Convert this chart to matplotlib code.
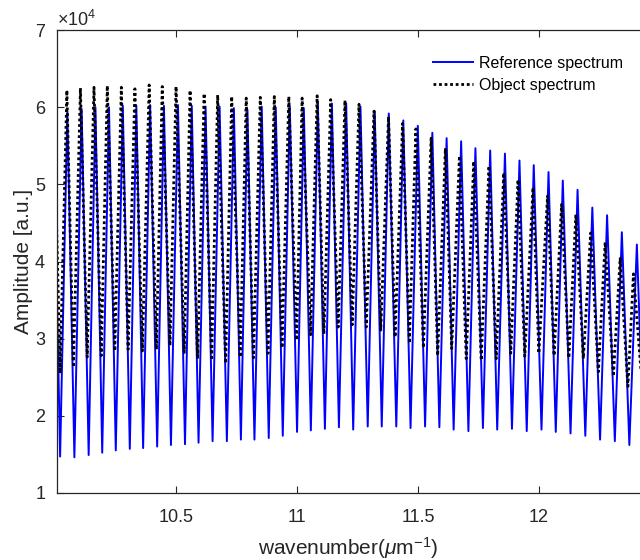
import matplotlib
matplotlib.use("Agg")
import matplotlib.pyplot as plt
import numpy as np

plt.rcParams['font.family'] = ['Liberation Sans', 'DejaVu Sans']
plt.rcParams['mathtext.fontset'] = 'custom'
plt.rcParams['mathtext.rm'] = 'Liberation Sans'
plt.rcParams['mathtext.it'] = 'Liberation Sans:italic'

SCALE = 1e4  # amplitudes below are in units of 1e4

# Reference spectrum (blue): fringe maxima and minima
ref_peak_x = [9.993, 10.051, 10.110, 10.167, 10.223, 10.280, 10.336, 10.393, 10.450, 10.508,
              10.565, 10.622, 10.680, 10.739, 10.795, 10.854, 10.912, 10.970, 11.028, 11.086,
              11.144, 11.203, 11.262, 11.321, 11.379, 11.439, 11.499, 11.559, 11.618, 11.678,
              11.737, 11.798, 11.859, 11.919, 11.978, 12.039, 12.098, 12.159, 12.220, 12.281,
              12.342, 12.404]
ref_peak_y = [5.96, 5.95, 5.98, 6.00, 6.00, 6.02, 6.02, 6.03, 6.02, 6.03,
              6.02, 6.01, 6.01, 5.99, 5.97, 6.01, 6.00, 6.02, 5.99, 6.06,
              6.05, 6.05, 6.01, 5.95, 5.92, 5.83, 5.76, 5.67, 5.60, 5.56,
              5.47, 5.44, 5.40, 5.31, 5.25, 5.16, 5.05, 4.93, 4.70, 4.60,
              4.38, 4.22]
ref_trough_x = [10.021, 10.080, 10.139, 10.195, 10.251, 10.309, 10.364, 10.422, 10.479, 10.537,
                10.593, 10.651, 10.710, 10.768, 10.824, 10.883, 10.941, 11.000, 11.057, 11.115,
                11.173, 11.232, 11.292, 11.350, 11.410, 11.469, 11.529, 11.588, 11.647, 11.708,
                11.768, 11.827, 11.888, 11.949, 12.010, 12.069, 12.130, 12.191, 12.252, 12.313,
                12.373, 12.433]
ref_trough_y = [1.47, 1.46, 1.49, 1.52, 1.55, 1.57, 1.58, 1.60, 1.62, 1.63,
                1.65, 1.67, 1.67, 1.69, 1.69, 1.71, 1.74, 1.79, 1.81, 1.83,
                1.85, 1.82, 1.86, 1.86, 1.86, 1.84, 1.86, 1.85, 1.82, 1.80,
                1.84, 1.82, 1.83, 1.80, 1.82, 1.79, 1.77, 1.74, 1.69, 1.67,
                1.62, 1.58]

# Object spectrum (black dotted)
obj_peak_x = [9.994, 10.049, 10.105, 10.161, 10.216, 10.274, 10.330, 10.389, 10.443, 10.500,
              10.558, 10.616, 10.672, 10.730, 10.790, 10.848, 10.906, 10.966, 11.021, 11.083,
              11.139, 11.198, 11.256, 11.318, 11.378, 11.436, 11.491, 11.554, 11.613, 11.671,
              11.730, 11.793, 11.854, 11.913, 11.975, 12.035, 12.093, 12.152, 12.213, 12.273,
              12.335, 12.390]
obj_peak_y = [6.15, 6.22, 6.25, 6.26, 6.28, 6.26, 6.24, 6.29, 6.27, 6.27,
              6.22, 6.18, 6.16, 6.14, 6.12, 6.13, 6.14, 6.14, 6.12, 6.15,
              6.10, 6.09, 6.04, 5.95, 5.88, 5.79, 5.72, 5.60, 5.47, 5.37,
              5.30, 5.24, 5.15, 5.06, 4.96, 4.85, 4.74, 4.61, 4.37, 4.25,
              4.04, 3.84]
obj_trough_x = [10.021, 10.076, 10.133, 10.191, 10.247, 10.302, 10.361, 10.419, 10.475, 10.534,
                10.589, 10.647, 10.705, 10.765, 10.820, 10.880, 10.938, 10.998, 11.056, 11.111,
                11.170, 11.228, 11.286, 11.346, 11.405, 11.464, 11.522, 11.581, 11.639, 11.699,
                11.761, 11.823, 11.883, 11.941, 11.999, 12.062, 12.123, 12.183, 12.245, 12.307,
                12.367, 12.428]
obj_trough_y = [2.55, 2.63, 2.76, 2.78, 2.84, 2.86, 2.84, 2.86, 2.91, 2.82,
                2.74, 2.72, 2.68, 2.76, 2.75, 2.81, 2.88, 2.98, 3.05, 3.06,
                3.15, 3.18, 3.15, 3.11, 3.02, 2.94, 2.88, 2.78, 2.87, 2.74,
                2.72, 2.74, 2.81, 2.77, 2.81, 2.78, 2.75, 2.74, 2.57, 2.51,
                2.38, 2.30]


def fringe_line(px, py, tx, ty):
    # join maxima and minima in wavenumber order
    x = np.array(px + tx)
    y = np.array(py + ty) * SCALE
    order = np.argsort(x)
    return x[order], y[order]


x_ref, y_ref = fringe_line(ref_peak_x, ref_peak_y, ref_trough_x, ref_trough_y)
x_obj, y_obj = fringe_line(obj_peak_x, obj_peak_y, obj_trough_x, obj_trough_y)

fig = plt.figure(figsize=(6.4, 5.6), dpi=100)
ax = fig.add_axes([0.089, 0.12, 0.911, 0.826])

ax.plot(x_ref, y_ref, color='#0000ff', lw=1.4, label='Reference spectrum')
ax.plot(x_obj, y_obj, color='black', lw=2.0, linestyle=(0, (1, 1.0)), label='Object spectrum')

ax.set_xlim(10.008, 12.417)
ax.set_ylim(1e4, 7e4)
ax.set_xticks([10.5, 11, 11.5, 12])
ax.set_xticklabels(['10.5', '11', '11.5', '12'])
ax.set_yticks(np.arange(1, 8) * SCALE)
ax.ticklabel_format(style='sci', axis='y', scilimits=(4, 4), useMathText=True)
ax.yaxis.get_offset_text().set_fontsize(13)
ax.yaxis.get_offset_text().set_color('#262626')

ax.tick_params(direction='in', length=5, width=0.8, top=True, right=False,
               labelsize=13, colors='#262626')
ax.tick_params(axis='x', pad=12)
ax.tick_params(axis='y', pad=8)
for side in ['left', 'bottom', 'top']:
    ax.spines[side].set_color('#262626')
    ax.spines[side].set_linewidth(0.9)
ax.spines['right'].set_visible(False)

ax.set_xlabel('wavenumber($\\mu$m$^{-1}$)', fontsize=15, color='#262626', labelpad=6)
ax.set_ylabel('Amplitude [a.u.]', fontsize=15, color='#262626', labelpad=1)

ax.legend(loc='upper left', bbox_to_anchor=(0.645, 0.945), frameon=False, fontsize=11.5,
          handlelength=2.5, handletextpad=0.35, labelspacing=0.45, borderpad=0,
          borderaxespad=0)

fig.savefig('out.png', dpi=100)
